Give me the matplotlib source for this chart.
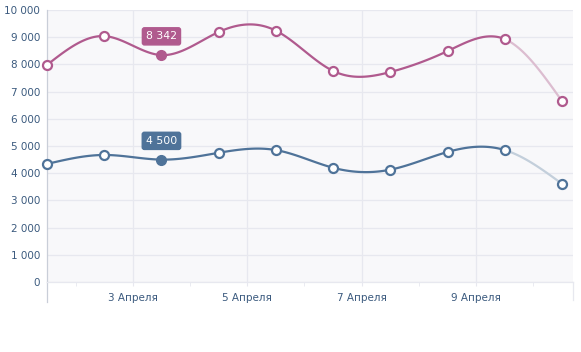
import numpy as np
import matplotlib
matplotlib.use("Agg")
import matplotlib.pyplot as plt
import matplotlib.dates as mdates
from matplotlib.lines import Line2D

# ---- data ----
dates = ["2024-04-01 12:00", "2024-04-02 12:00", "2024-04-03 12:00", "2024-04-04 12:00",
         "2024-04-05 12:00", "2024-04-06 12:00", "2024-04-07 12:00", "2024-04-08 12:00",
         "2024-04-09 12:00", "2024-04-10 12:00"]
series_a = [7980, 9040, 8342, 9190, 9240, 7760, 7720, 8490, 8930, 6650]
series_b = [4340, 4670, 4500, 4750, 4850, 4200, 4130, 4780, 4850, 3610]
tick_dates = ["2024-04-03", "2024-04-05", "2024-04-07", "2024-04-09"]
tick_labels = ["3 Апреля", "5 Апреля", "7 Апреля", "9 Апреля"]
minor_dates = ["2024-04-02", "2024-04-04", "2024-04-06", "2024-04-08", "2024-04-10"]
y_ticks = [0, 1000, 2000, 3000, 4000, 5000, 6000, 7000, 8000, 9000, 10000]
highlight_idx = 2

color_a = "#b05a8e"
color_a_fade = "#dcbdd0"
color_b = "#4f7399"
color_b_fade = "#c3cfdb"
text_col = "#3b5a7e"
grid_col = "#e7e8ef"


def natural_spline(x, y, n=30):
    x = np.asarray(x, float); y = np.asarray(y, float)
    m = len(x)
    h = np.diff(x)
    A = np.zeros((m, m)); r = np.zeros(m)
    A[0, 0] = 1; A[-1, -1] = 1
    for i in range(1, m - 1):
        A[i, i - 1] = h[i - 1]; A[i, i] = 2 * (h[i - 1] + h[i]); A[i, i + 1] = h[i]
        r[i] = 3 * ((y[i + 1] - y[i]) / h[i] - (y[i] - y[i - 1]) / h[i - 1])
    c = np.linalg.solve(A, r)
    segs = []
    for i in range(m - 1):
        b = (y[i + 1] - y[i]) / h[i] - h[i] * (2 * c[i] + c[i + 1]) / 3
        d = (c[i + 1] - c[i]) / (3 * h[i])
        t = np.linspace(0, h[i], n)
        segs.append((x[i] + t, y[i] + b * t + c[i] * t ** 2 + d * t ** 3))
    return segs


fig = plt.figure(figsize=(5.81, 3.52), dpi=100)
W, H = 581, 352
left, right, top, bottom = 47, 573, 10, 282
ax = fig.add_axes([left / W, 1 - bottom / H, (right - left) / W, (bottom - top) / H])
ax.set_facecolor("#f8f8fa")

xd = mdates.datestr2num(dates)
x0 = xd[0]
xr = x0 + (right - left) / 57.22
ax.set_xlim(x0, xr)
ax.set_ylim(0, 10000)

for v in y_ticks:
    ax.axhline(v, color=grid_col, lw=0.9, zorder=0)
td = mdates.datestr2num(tick_dates)
for t in td:
    ax.axvline(t, color=grid_col, lw=0.9, zorder=0)

for vals, col, fade in [(series_a, color_a, color_a_fade), (series_b, color_b, color_b_fade)]:
    segs = natural_spline(xd, vals)
    for i, (sx, sy) in enumerate(segs):
        c = fade if i == len(segs) - 1 else col
        ax.plot(sx, sy, color=c, lw=1.6, solid_capstyle="round", zorder=3, clip_on=False)
    for i, (xx, yy) in enumerate(zip(xd, vals)):
        if i == highlight_idx:
            ax.plot(xx, yy, "o", ms=7, mfc=col, mec=col, zorder=5, clip_on=False)
        else:
            ax.plot(xx, yy, "o", ms=6.5, mfc="white", mec=col, mew=1.6, zorder=5, clip_on=False)
    hv = vals[highlight_idx]
    ax.annotate(f"{hv:,}".replace(",", " "), (xd[highlight_idx], hv), xytext=(0, 13.5),
                textcoords="offset points", ha="center", va="center", color="white",
                fontsize=7.8, family="DejaVu Sans",
                bbox=dict(boxstyle="round,pad=0.33,rounding_size=0.2", fc=col, ec=col), zorder=6)

for s in ["top", "right", "bottom"]:
    ax.spines[s].set_visible(False)
ax.spines["left"].set_color("#c9ced8")
ax.spines["left"].set_linewidth(0.9)

ax.set_yticks(y_ticks)
ax.set_yticklabels([f"{v:,}".replace(",", " ") for v in y_ticks], color=text_col, fontsize=7.5)
ax.tick_params(axis="y", length=0, pad=5)
ax.set_xticks(td)
ax.set_xticklabels(tick_labels, color=text_col, fontsize=7.5)
ax.set_xticks(mdates.datestr2num(minor_dates), minor=True)
ax.tick_params(axis="x", which="major", length=3, color=grid_col, pad=5)
ax.tick_params(axis="x", which="minor", length=3, color=grid_col)

# axis frame extensions below plot area
fig.add_artist(Line2D([left / W, left / W], [1 - bottom / H, 1 - 302 / H], color="#c9ced8", lw=0.9))
fig.add_artist(Line2D([right / W, right / W], [1 - bottom / H, 1 - 300 / H], color=grid_col, lw=0.9))
fig.add_artist(Line2D([left / W, right / W], [1 - bottom / H, 1 - bottom / H], color=grid_col, lw=0.9))

fig.savefig("out.png", dpi=100)
